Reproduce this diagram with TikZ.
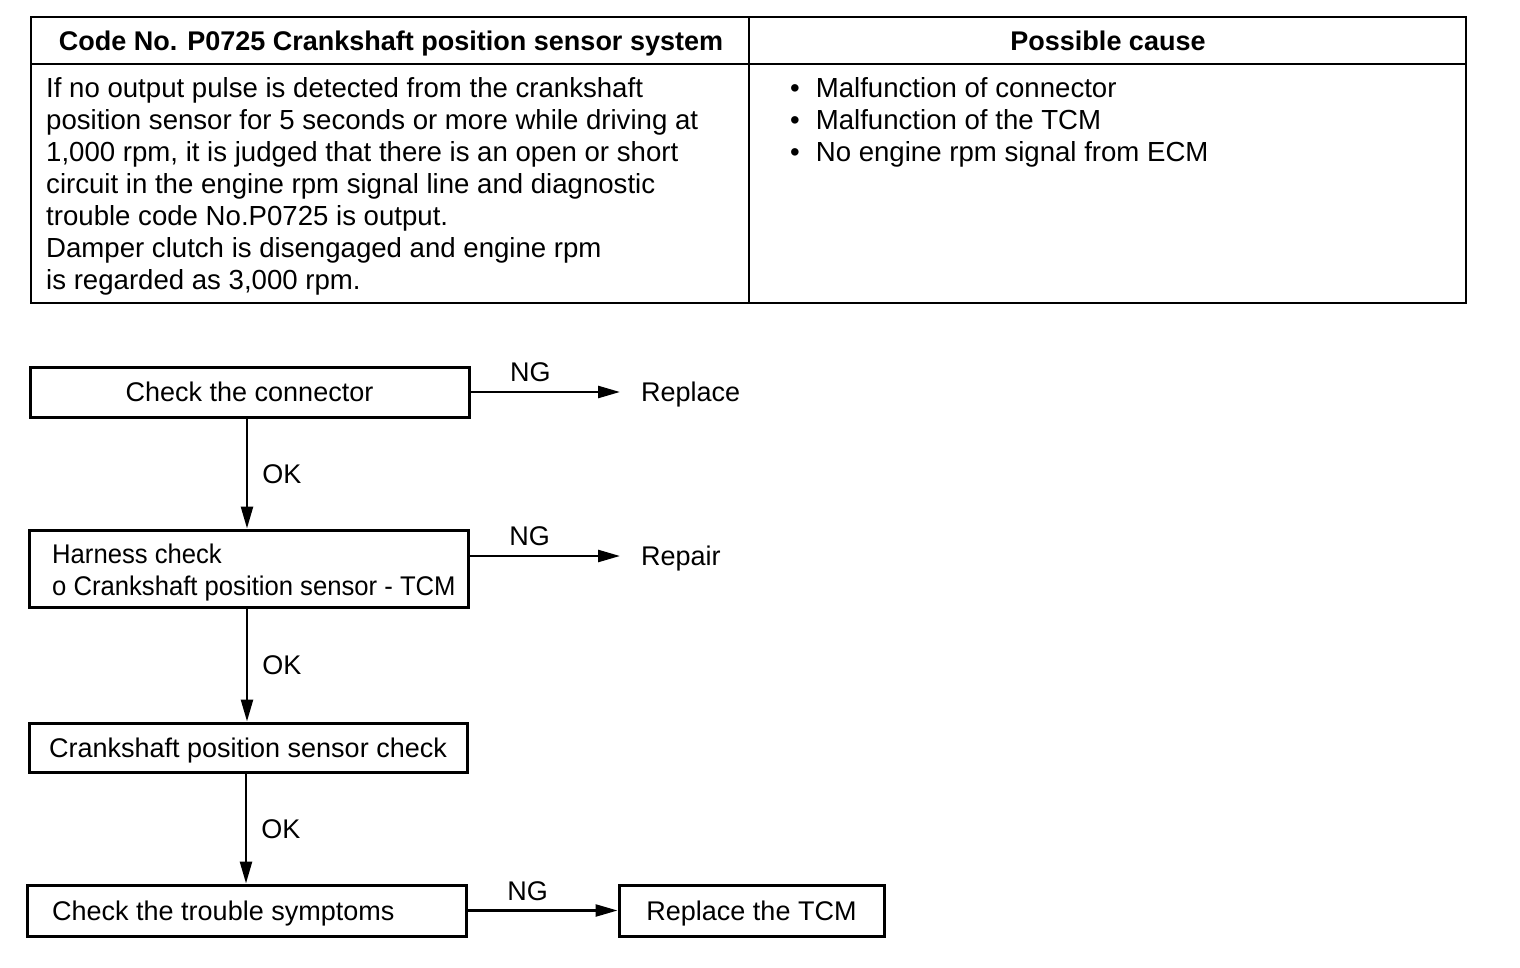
\documentclass[tikz,border=0pt]{standalone}
\usepackage{fontspec}
\setmainfont{Liberation Sans}
\usetikzlibrary{arrows.meta}
\begin{document}
\begin{tikzpicture}[x=1pt,y=-1pt,
  every node/.style={font=\fontsize{27}{32}\selectfont},
  capc/.style={text height=19.5pt, text depth=0pt},
  tline/.style={line width=2.5pt},
  box/.style={draw, line width=3pt, inner sep=0pt, capc},
  lbl/.style={inner sep=0pt, anchor=west, capc},
  body/.style={inner sep=0pt, anchor=west, capc, font=\fontsize{27.6}{32}\selectfont},
  arr/.style={line width=2.5pt, -{Triangle[length=22pt,width=12pt]}},
  tag/.style={inner sep=3pt, capc}
]
\useasboundingbox (0,0) rectangle (1520,968);
% table
\draw[tline] (31,17) rectangle (1466,303);
\draw[tline] (31,64) -- (1466,64);
\draw[tline] (749,17) -- (749,303);
\node[inner sep=0pt, capc, font=\fontsize{27}{32}\selectfont\bfseries] (h1) at (391,41) {Code No. P0725 Crankshaft position sensor system};
\node[inner sep=0pt, capc, font=\fontsize{27}{32}\selectfont\bfseries] (h2) at (1108,41) {Possible cause};
\node[body] (d1) at (46,88) {If no output pulse is detected from the crankshaft};
\node[body] (d2) at (46,120) {position sensor for 5 seconds or more while driving at};
\node[body] (d3) at (46,152) {1,000 rpm, it is judged that there is an open or short};
\node[body] (d4) at (46,184) {circuit in the engine rpm signal line and diagnostic};
\node[body] (d5) at (46,216) {trouble code No.P0725 is output.};
\node[body] (d6) at (46,248) {Damper clutch is disengaged and engine rpm};
\node[body] (d7) at (46,280) {is regarded as 3,000 rpm.};
\node[body] (c1) at (790,88) {•\hspace{16pt}Malfunction of connector};
\node[body] (c2) at (790,120) {•\hspace{16pt}Malfunction of the TCM};
\node[body] (c3) at (790,152) {•\hspace{16pt}No engine rpm signal from ECM};
% flowchart
\node[box, minimum width=439pt, minimum height=50pt] (b1) at (249.5,392) {Check the connector};
\node[box, minimum width=439pt, minimum height=77pt] (b2) at (248.5,568.5) {};
\node[lbl] (b2a) at (52,554) {\scalebox{0.95}[1]{Harness check}};
\node[lbl] (b2b) at (52,586) {\scalebox{0.95}[1]{o Crankshaft position sensor - TCM}};
\node[box, minimum width=438pt, minimum height=49pt] (b3) at (248,747.5) {Crankshaft position sensor check};
\node[box, minimum width=439pt, minimum height=51pt] (b4) at (246.5,910.5) {};
\node[lbl] (b4a) at (52,911) {Check the trouble symptoms};
\node[box, minimum width=265pt, minimum height=51pt] (b5) at (751.5,910.5) {Replace the TCM};
\node[lbl, inner xsep=21pt] (rep) at (620,392) {Replace};
\node[lbl, inner xsep=21pt] (rpr) at (620,556) {Repair};
% connectors
\draw[arr] (b1.east) -- node[tag, above, inner ysep=9pt, pos=0.4] {NG} (rep.west);
\draw[arr] (b2.east |- rpr.west) -- node[tag, above, inner ysep=9pt, pos=0.4] {NG} (rpr.west);
\draw[arr] (b4.east) -- node[tag, above, inner ysep=9pt, pos=0.4] {NG} (b5.west);
\draw[arr] (b1.south -| 247,0) -- node[tag, right, inner xsep=14pt] {OK} (b2.north -| 247,0);
\draw[arr] (b2.south -| 247,0) -- node[tag, right, inner xsep=14pt] {OK} (b3.north -| 247,0);
\draw[arr] (b3.south -| 246,0) -- node[tag, right, inner xsep=14pt] {OK} (b4.north -| 246,0);
\end{tikzpicture}
\end{document}
